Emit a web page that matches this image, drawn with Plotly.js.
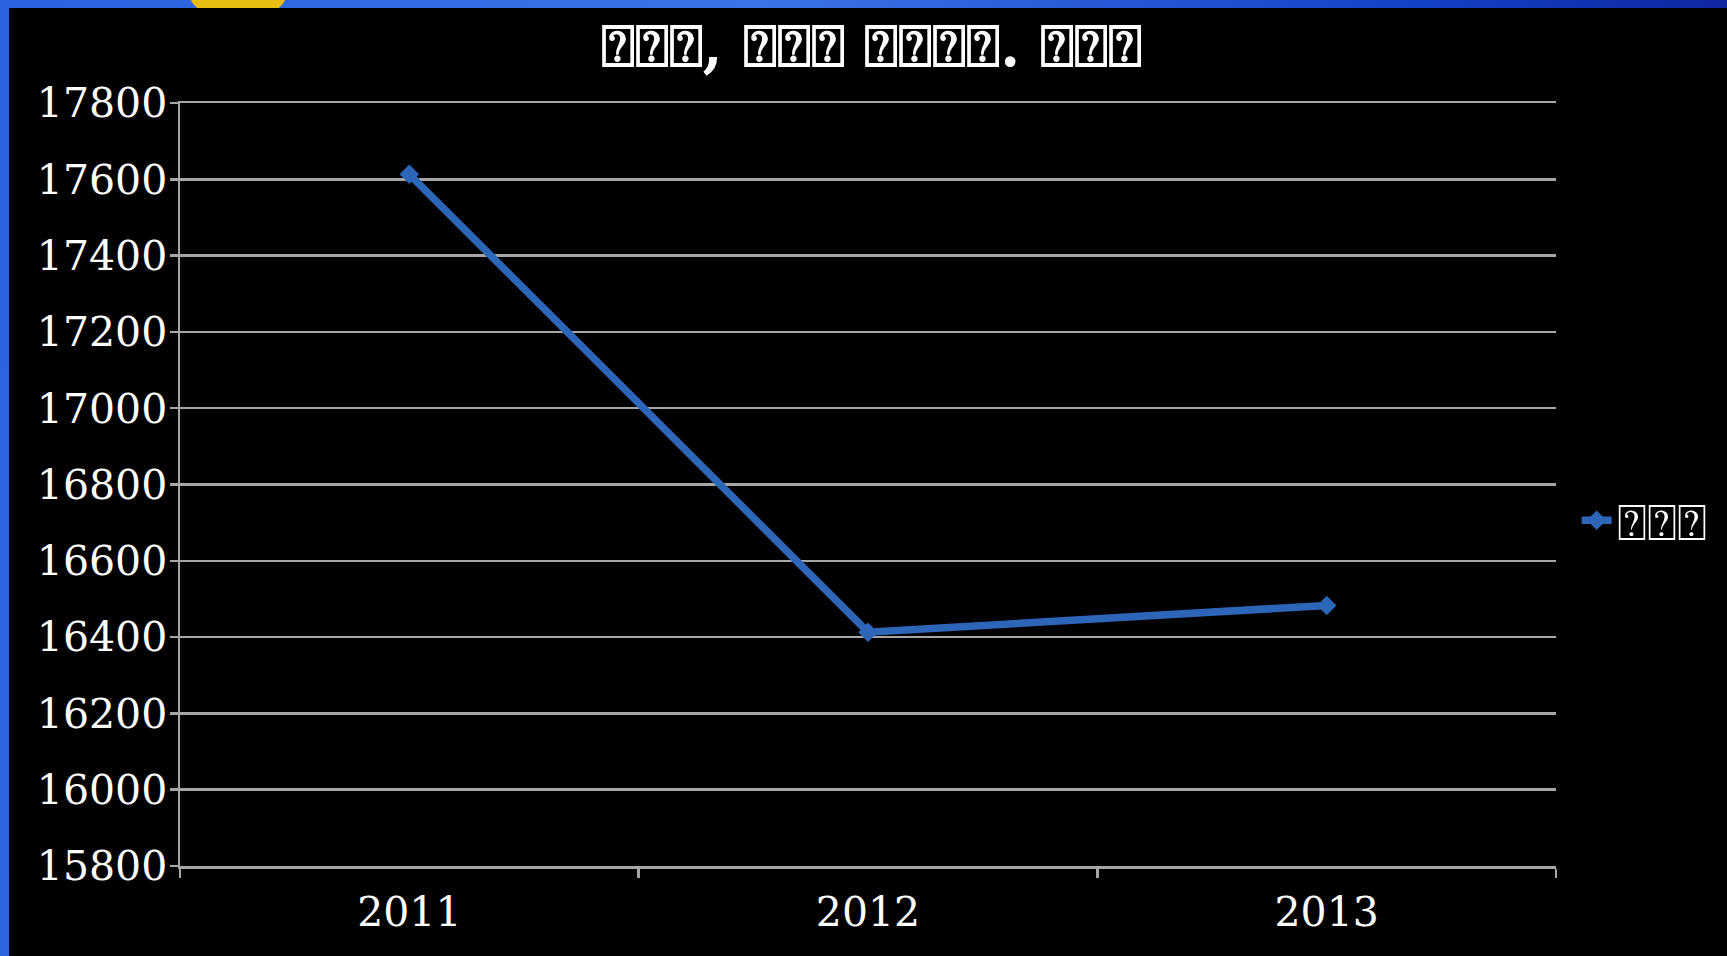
<!DOCTYPE html>
<html>
<head>
<meta charset="utf-8">
<script src="https://cdn.plot.ly/plotly-3.0.1.min.js"></script>
<style>
  html, body { margin: 0; padding: 0; width: 1727px; height: 956px; overflow: hidden;
    background: linear-gradient(100deg, #2a62e0 0%, #3b74e8 40%, #1540c8 75%, #0a1a8a 100%); }
  #blob { position: absolute; left: 190px; top: -30px; width: 96px; height: 50px; border-radius: 50%;
    background: #e6bd10; }
  #chart { position: absolute; left: 9px; top: 8px; width: 1718px; height: 948px; background: #000; }
</style>
</head>
<body>
<div id="blob"></div>
<div id="chart"></div>
<script>
const titleText = "⍰⍰⍰, ⍰⍰⍰ ⍰⍰⍰⍰. ⍰⍰⍰";
const seriesName = "⍰⍰⍰";
const years = ["2011", "2012", "2013"];
const values = [17613, 16413, 16483];
const yTicks = [15800, 16000, 16200, 16400, 16600, 16800, 17000, 17200, 17400, 17600, 17800];

const font = "DejaVu Serif";
const trace = {
  type: "scatter",
  mode: "lines+markers",
  x: years,
  y: values,
  name: seriesName,
  line: { color: "#2d66b8", width: 7.5 },
  marker: { symbol: "diamond", size: 15, color: "#2d66b8" }
};

const layout = {
  width: 1718, height: 948,
  paper_bgcolor: "#000", plot_bgcolor: "#000",
  margin: { l: 171, r: 171, t: 95, b: 90 },
  font: { family: font, color: "#ffffff", size: 40 },
  title: {
    text: "<b>" + titleText + "</b>",
    font: { family: font, size: 57, color: "#ffffff" },
    x: 0.502, xanchor: "center", xref: "container",
    y: 1 - 38 / 948, yanchor: "middle", yref: "container"
  },
  xaxis: {
    type: "category",
    range: [-0.5, 2.5],
    tickson: "boundaries",
    ticks: "outside", ticklen: 9, tickwidth: 2.5, tickcolor: "#a6a6a6",
    showline: true, linecolor: "#a6a6a6", linewidth: 2.5,
    mirror: true,
    showgrid: false, zeroline: false,
    ticklabelstandoff: 8,
    tickfont: { family: font, size: 41, color: "#ffffff" }
  },
  yaxis: {
    range: [15800, 17800],
    tickvals: yTicks,
    ticktext: yTicks.map(String),
    ticks: "outside", ticklen: 8, tickwidth: 2.5, tickcolor: "#a6a6a6",
    showline: true, linecolor: "#a6a6a6", linewidth: 2.5,
    showgrid: true, gridcolor: "#a6a6a6", gridwidth: 2.5,
    zeroline: false,
    ticklabelstandoff: -6,
    tickfont: { family: font, size: 41, color: "#ffffff" }
  },
  showlegend: true,
  legend: {
    x: 1.015, xanchor: "left", y: 0.453, yanchor: "middle",
    bgcolor: "rgba(0,0,0,0)",
    font: { family: font, size: 50, color: "#ffffff" },
    itemwidth: 30
  }
};

Plotly.newPlot("chart", [trace], layout, { displayModeBar: false, staticPlot: true });
</script>
</body>
</html>
